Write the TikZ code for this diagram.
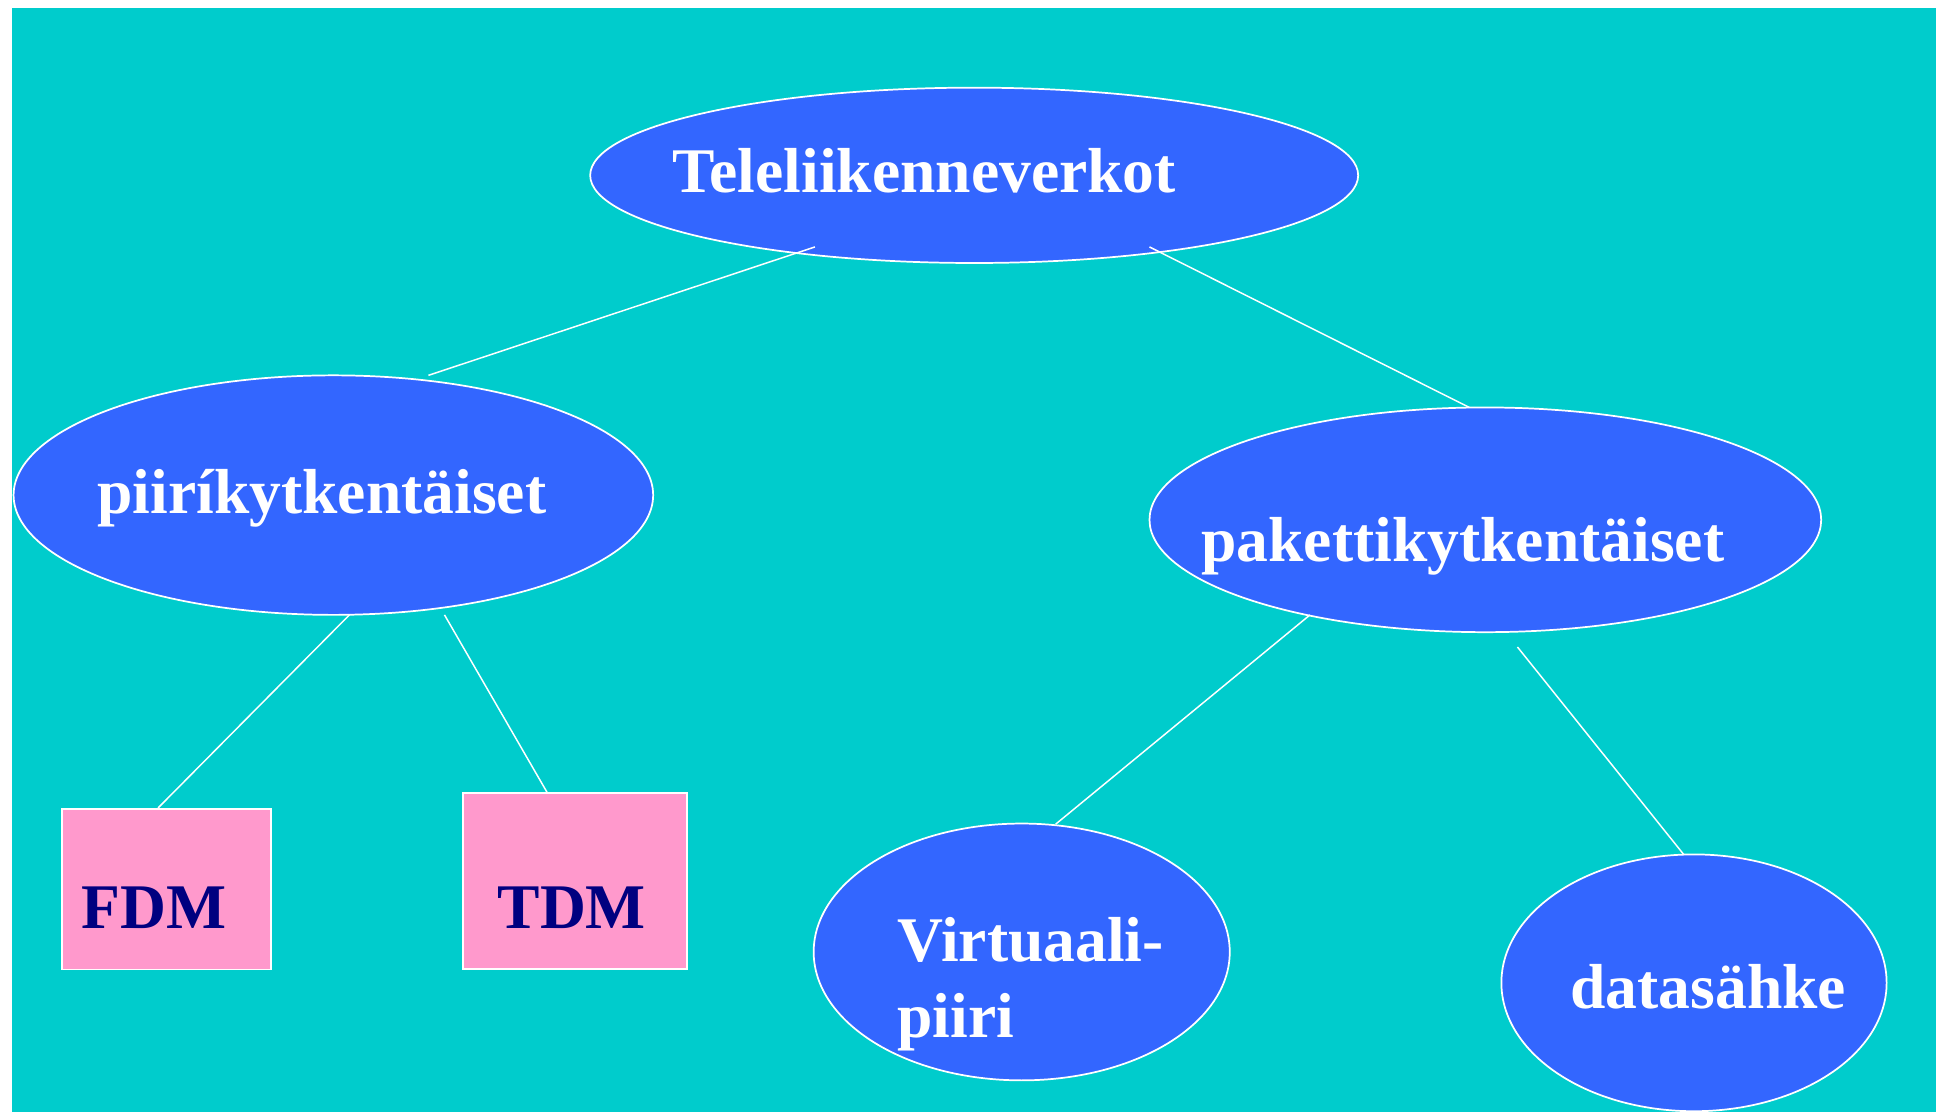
\documentclass[tikz,border=0pt]{standalone}
\usepackage{fontspec}
\setmainfont{Liberation Serif}
\usetikzlibrary{shapes.geometric}
\definecolor{bgteal}{HTML}{00CCCC}
\definecolor{ellblue}{HTML}{3366FF}
\definecolor{boxpink}{HTML}{FF99CC}
\definecolor{navytxt}{HTML}{000080}
\tikzset{
  ell/.style={ellipse, draw=white, line width=1.4pt, fill=ellblue, inner sep=0pt},
  pinkbox/.style={rectangle, draw=white, line width=1.4pt, fill=boxpink, inner sep=0pt, anchor=north west},
  lbl/.style={anchor=base west, inner sep=0pt, outer sep=0pt, text=white, font=\fontsize{51.5}{61}\selectfont\bfseries},
  navylbl/.style={lbl, text=navytxt},
  conn/.style={draw=white, line width=1.2pt}
}
\begin{document}
\begin{tikzpicture}[x=1pt,y=-1pt]
\useasboundingbox (0,0) rectangle (1568,901);
\fill[white] (0,0) rectangle (1568,901);
\fill[bgteal] (9.7,6.5) rectangle (1568,901);

% ellipses
\node[ell, minimum width=622pt, minimum height=142pt] (top) at (789,142) {};
\node[ell, minimum width=518pt, minimum height=194pt] (piiri) at (270,401) {};
\node[ell, minimum width=544pt, minimum height=182pt] (paketti) at (1203,421) {};
\node[ell, minimum width=337pt, minimum height=208pt] (virt) at (827.5,771) {};
\node[ell, minimum width=312pt, minimum height=208pt] (data) at (1372,796) {};

% boxes
\node[pinkbox, minimum width=169pt, minimum height=130pt] (fdm) at (49.6,654.4) {};
\node[pinkbox, minimum width=181.6pt, minimum height=142.4pt] (tdm) at (374,641.6) {};

% connector end points
\coordinate (c1a) at (660,200);
\coordinate (c1b) at (347,304);
\coordinate (c2a) at (931,200);
\coordinate (c2b) at (1190,330);
\coordinate (c3a) at (283,498);
\coordinate (c3b) at (128,654.4);
\coordinate (c4a) at (360,498);
\coordinate (c4b) at (443,641.6);
\coordinate (c5a) at (1061,498);
\coordinate (c5b) at (855,667.5);
\coordinate (c6a) at (1229,524);
\coordinate (c6b) at (1364,692.5);

\draw[conn] (c1a) -- (c1b);
\draw[conn] (c2a) -- (c2b);
\draw[conn] (c3a) -- (c3b);
\draw[conn] (c4a) -- (c4b);
\draw[conn] (c5a) -- (c5b);
\draw[conn] (c6a) -- (c6b);

% labels
\node[lbl] (ttop) at (545,156) {Teleliikenneverkot};
\node[lbl] (tpiiri) at (79,416) {piiríkytkentäiset};
\node[lbl] (tpaketti) at (973,455) {pakettikytkentäiset};
\node[lbl] (tvirt) at (727,779) {\begin{tabular}[t]{@{}l@{}}Virtuaali-\\piiri\end{tabular}};
\node[lbl] (tdata) at (1272,817) {datasähke};
\node[navylbl] (tfdm) at (66,752) {FDM};
\node[navylbl] (ttdm) at (403,752) {TDM};
\end{tikzpicture}
\end{document}
